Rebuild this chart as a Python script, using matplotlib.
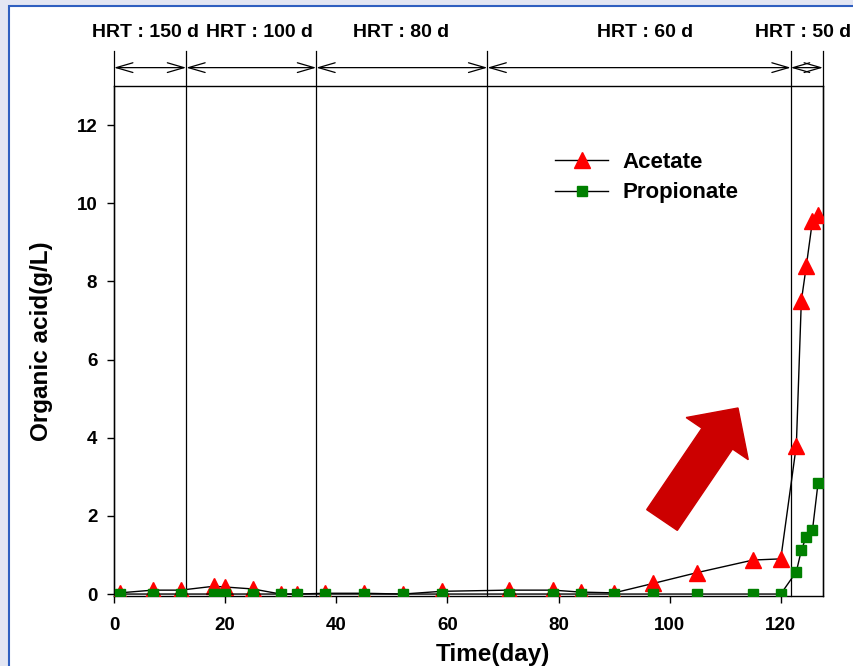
import matplotlib.pyplot as plt
from matplotlib.patches import Rectangle, FancyArrow

plt.rcParams['font.family'] = ['Liberation Sans', 'DejaVu Sans']
plt.rcParams['font.weight'] = 'bold'

# sampling days (both series measured on the same days)
days = [1, 7, 12, 18, 20, 25, 30, 33, 38, 45, 52, 59, 71, 79, 84, 90, 97, 105,
        115, 120, 122.8, 123.7, 124.6, 125.7, 126.7]
acetate = [0.03, 0.1, 0.1, 0.2, 0.18, 0.13, 0.0, 0.0, 0.02, 0.02, 0.0, 0.07,
           0.1, 0.1, 0.05, 0.03, 0.27, 0.55, 0.87, 0.9, 3.8, 7.5, 8.4, 9.55, 9.7]
propionate = [0, 0, 0, 0, 0, 0, 0, 0, 0, 0, 0, 0, 0, 0, 0, 0, 0, 0, 0, 0,
              0.57, 1.12, 1.47, 1.63, 2.83]

# HRT periods
hrt_bounds = [0, 13, 36.4, 67.2, 121.8, 127.6]
hrt_labels = ['HRT : 150 d', 'HRT : 100 d', 'HRT : 80 d', 'HRT : 60 d', 'HRT : 50 d']
hrt_label_x = [5.6, 26.2, 51.7, 95.5, 124.1]

fig = plt.figure(figsize=(8.54, 6.66), dpi=100, facecolor='#e3e6f3')
# white panel with blue border
fig.patches.append(Rectangle((9 / 854, -0.01), 1.0, 1 - 6 / 666 + 0.01,
                             transform=fig.transFigure, facecolor='white',
                             edgecolor='#2f5fc0', linewidth=1.5, zorder=-5))

ax = fig.add_axes([114 / 854, 1 - 596 / 666, (823 - 114) / 854, (596 - 86) / 666])
ax.set_facecolor('white')

ax.plot(days, acetate, color='black', lw=1, marker='^', ms=11,
        mfc='red', mec='red', label='Acetate', zorder=3)
ax.plot(days, propionate, color='black', lw=1, marker='s', ms=7.5,
        mfc='#008000', mec='#008000', label='Propionate', zorder=4)

ax.set_xlim(0, 127.6)
ax.set_ylim(-0.05, 13)
ax.set_xticks([0, 20, 40, 60, 80, 100, 120])
ax.set_yticks([0, 2, 4, 6, 8, 10, 12])
ax.tick_params(direction='out', length=5, width=1, labelsize=13.5)
ax.tick_params(axis='x', pad=10)
ax.tick_params(axis='y', pad=7)
for s in ax.spines.values():
    s.set_linewidth(1)

ax.set_xlabel('Time(day)', fontsize=17.5, fontweight='bold')
ax.xaxis.set_label_coords(0.535, -0.092)
ax.set_ylabel('Organic acid(g/L)', fontsize=17.5, fontweight='bold', labelpad=17)

# HRT boundary lines and dimension arrows
y_arrow = 13.47
y_top = 13.9
for b in hrt_bounds:
    ax.plot([b, b], [-0.05, y_top], color='black', lw=0.9, clip_on=False, zorder=2)
for i in range(len(hrt_labels)):
    ax.annotate('', xy=(hrt_bounds[i], y_arrow), xytext=(hrt_bounds[i + 1], y_arrow),
                annotation_clip=False,
                arrowprops=dict(arrowstyle='<->,head_length=1.2,head_width=0.35',
                                color='black', lw=0.9, shrinkA=0, shrinkB=0,
                                mutation_scale=10))
    ax.text(hrt_label_x[i], 14.36, hrt_labels[i], ha='center', va='center',
            fontsize=14, fontweight='bold', clip_on=False)

ax.legend(loc='upper left', bbox_to_anchor=(555 / 854, 1 - 152 / 666),
          bbox_transform=fig.transFigure, frameon=False,
          handlelength=2.4, handletextpad=0.65, labelspacing=0.42,
          borderpad=0, borderaxespad=0, prop={'weight': 'bold', 'size': 16})

# big red arrow
fig.patches.append(FancyArrow(6.62, 1.46, 0.76, 1.12, width=0.37, head_width=0.75,
                              head_length=0.37, length_includes_head=True,
                              color='#cc0000', transform=fig.dpi_scale_trans,
                              zorder=5))

fig.savefig('out.png', dpi=100, facecolor=fig.get_facecolor())
